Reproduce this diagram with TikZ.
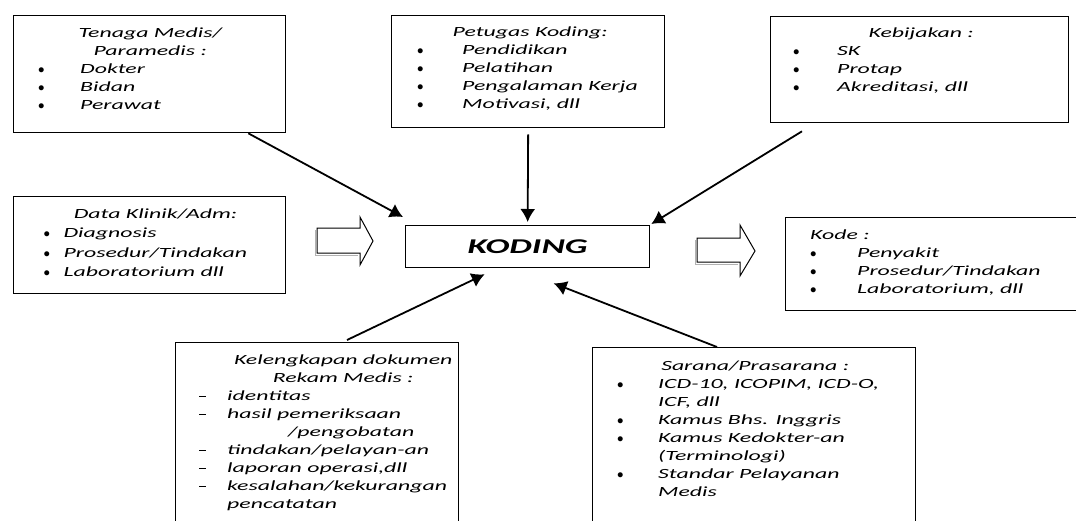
\documentclass[tikz,border=0pt]{standalone}
\usepackage{fontspec}
\setmainfont[FakeStretch=1.7]{Carlito}
\usepackage{graphicx}
\usetikzlibrary{arrows.meta}

\newcommand\isifont{\fontsize{14}{18}\selectfont\itshape}
\newcommand\titik{\scalebox{0.9}{$\bullet$}}
\newcommand\strip{\rule[4pt]{7pt}{1.3pt}}
\newcommand\judul[2]{\multicolumn{2}{@{}l@{}}{\makebox[#1][c]{#2}}}

\tikzset{
  kotak/.style={draw, line width=1.3pt, inner sep=0pt, anchor=north west},
  isi/.style={anchor=north west, inner sep=0pt, font=\isifont},
  panah/.style={-{Latex[length=13pt,width=15pt]}, line width=1.8pt},
  blok/.style={draw, line width=1pt, fill=white},
  bayang/.style={draw=gray!60, line width=1pt},
}

\begin{document}
\begin{tikzpicture}[x=1pt,y=-1pt]
\useasboundingbox (0,0) rectangle (1076,520);
\clip (0,0) rectangle (1076,520);

% faktor atas
\node[kotak, minimum width=272pt, minimum height=117pt] (tenaga) at (13,15) {};
\node[isi] (tenagaisi) at ([shift={(25,10)}]tenaga.north west) {
\begin{tabular}{@{}p{42pt}@{}l@{}}
\judul{224pt}{Tenaga Medis/} \\
\judul{224pt}{Paramedis :} \\
\titik & Dokter \\
\titik & Bidan \\
\titik & Perawat
\end{tabular}
};

\node[kotak, minimum width=273pt, minimum height=112pt] (petugas) at (391,15) {};
\node[isi] (petugasisi) at ([shift={(26,9)}]petugas.north west) {
\begin{tabular}{@{}p{45pt}@{}l@{}}
\judul{226pt}{Petugas Koding:} \\
\titik & Pendidikan \\
\titik & Pelatihan \\
\titik & Pengalaman Kerja \\
\titik & Motivasi, dll
\end{tabular}
};

\node[kotak, minimum width=298pt, minimum height=106pt] (kebijakan) at (770,16) {};
\node[isi] (kebijakanisi) at ([shift={(23,9)}]kebijakan.north west) {
\begin{tabular}{@{}p{44pt}@{}l@{}}
\judul{256pt}{Kebijakan :} \\
\titik & SK \\
\titik & Protap \\
\titik & Akreditasi, dll
\end{tabular}
};

% input dan output
\node[kotak, minimum width=272pt, minimum height=97pt] (data) at (13,196) {};
\node[isi] (dataisi) at ([shift={(25,9)}]data.north west) {
\renewcommand\arraystretch{1.07}
\begin{tabular}{@{}p{20pt}@{}l@{}}
\judul{224pt}{Data Klinik/Adm:} \\
\titik & Diagnosis \\
\titik & Prosedur/Tindakan \\
\titik & Laboratorium dll
\end{tabular}
};

\node[kotak, minimum width=244pt, minimum height=42pt,
      font=\fontsize{21}{25}\selectfont\bfseries\itshape] (koding) at (405,225) {KODING};

\node[kotak, minimum width=300pt, minimum height=93pt] (kode) at (785,217) {};
\node[isi] (kodeisi) at ([shift={(25,10)}]kode.north west) {
\begin{tabular}{@{}p{47pt}@{}l@{}}
\multicolumn{2}{@{}l@{}}{Kode :} \\
\titik & Penyakit \\
\titik & Prosedur/Tindakan \\
\titik & Laboratorium, dll
\end{tabular}
};

% faktor bawah
\node[kotak, minimum width=283pt, minimum height=190pt] (kelengkapan) at (175,342) {};
\node[isi] (kelengkapanisi) at ([shift={(24,10)}]kelengkapan.north west) {
\begin{tabular}{@{}p{28pt}@{}l@{}}
\judul{288pt}{Kelengkapan dokumen} \\
\judul{288pt}{Rekam Medis :} \\
\strip & identitas \\
\strip & hasil pemeriksaan \\
 & \hspace{61pt}/pengobatan \\
\strip & tindakan/pelayan-an \\
\strip & laporan operasi,dll \\
\strip & kesalahan/kekurangan \\
 & pencatatan
\end{tabular}
};

\node[kotak, minimum width=323pt, minimum height=190pt] (sarana) at (592,347) {};
\node[isi] (saranaisi) at ([shift={(25,11)}]sarana.north west) {
\begin{tabular}{@{}p{41pt}@{}l@{}}
\judul{276pt}{Sarana/Prasarana :} \\
\titik & ICD-10, ICOPIM, ICD-O, \\
 & ICF, dll \\
\titik & Kamus Bhs. Inggris \\
\titik & Kamus Kedokter-an \\
 & (Terminologi) \\
\titik & Standar Pelayanan \\
 & Medis
\end{tabular}
};

% panah blok
\draw[bayang] (315,230) -- (315,255) -- (358,255);
\draw[blok] (317,228) -- (360,228) -- (360,217) -- (373,241) -- (360,265) -- (360,253) -- (317,253) -- cycle;
\draw[bayang] (695,240) -- (695,264) -- (738,264);
\draw[blok] (697,238) -- (740,238) -- (740,225) -- (755,251) -- (740,276) -- (740,262) -- (697,262) -- cycle;

% panah ke koding
\draw[panah] ([xshift=-38pt]tenaga.south east) -- ([shift={(-2,-8)}]koding.north west);
\draw[panah] ([yshift=-6pt]petugas.south) -- ([yshift=3pt]koding.north);
\draw[panah] ([xshift=32pt,yshift=-8pt]kebijakan.south west) -- ([shift={(1,-1)}]koding.north east);
\draw[panah] ([shift={(172,-2)}]kelengkapan.north west) -- ([shift={(-43,6)}]koding.south);
\draw[panah] ([xshift=125pt]sarana.north west) -- ([shift={(26,15)}]koding.south);

\end{tikzpicture}
\end{document}
